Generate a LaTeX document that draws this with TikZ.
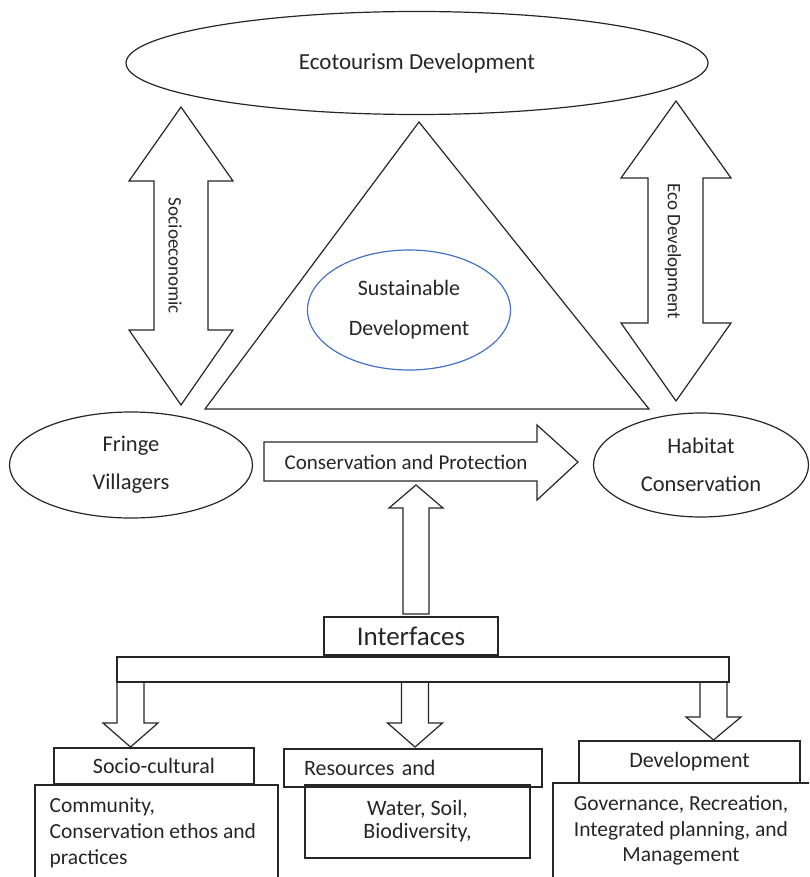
\documentclass[tikz,border=0pt]{standalone}
\usepackage{fontspec}
\setmainfont{Carlito}
\usetikzlibrary{shapes.geometric}
\definecolor{ovalblue}{HTML}{4472C4}

\begin{document}
\begin{tikzpicture}[x=1pt, y=-1pt, line width=1.2pt, color=black!85,
  txt/.style={font=\fontsize{22}{26}\selectfont, inner sep=0pt},
  oval/.style={draw, ellipse, inner sep=0pt, align=center}]
  \useasboundingbox (0,0) rectangle (809,877);
  \clip (0,0) rectangle (809,877);
  % top and centre
  \node[oval, minimum width=582pt, minimum height=103pt, font=\fontsize{23}{28}\selectfont] (eco) at (417,63) {Ecotourism Development};
  \draw (419,122) -- (649,409) -- (205,409) -- cycle;
  \node[oval, draw=ovalblue, minimum width=203pt, minimum height=120pt, font=\fontsize{22}{40}\selectfont] (sust) at (409,310) {Sustainable\\Development};
  % side arrows
  \draw (181,107) -- (233,181) -- (208,181) -- (208,330) -- (233,330) -- (181,405) -- (129,330) -- (154,330) -- (154,181) -- (129,181) -- cycle;
  \node[rotate=-90, font=\fontsize{19}{19}\selectfont] (socio) at (175,256) {Socioeconomic};
  \draw (676,101) -- (731,178) -- (703,178) -- (703,323) -- (731,323) -- (676,401) -- (621,323) -- (648,323) -- (648,178) -- (621,178) -- cycle;
  \node[rotate=-90, font=\fontsize{19}{19}\selectfont] (ecodev) at (673,251) {Eco Development};
  % middle row
  \node[oval, minimum width=243pt, minimum height=106pt, font=\fontsize{22.5}{38}\selectfont] (fringe) at (131,465) {Fringe\\Villagers};
  \node[oval, minimum width=215pt, minimum height=104pt, font=\fontsize{22.5}{38}\selectfont] (habitat) at (701,465) {Habitat\\Conservation};
  \draw (264,442) -- (537,442) -- (537,425) -- (578,462) -- (537,500) -- (537,481) -- (264,481) -- cycle;
  \node[font=\fontsize{21}{21}\selectfont] (consv) at (406,462) {Conservation and Protection};
  \draw (416,485) -- (443,508) -- (429,508) -- (429,614) -- (403,614) -- (403,508) -- (389,508) -- cycle;
  % interfaces
  \node[draw, minimum width=174pt, minimum height=38pt, font=\fontsize{27}{27}\selectfont] (intf) at (411,636) {Interfaces};
  \draw (117,657) rectangle (729,682);
  \foreach \x/\b/\t in {130.5/723/747, 415/723/747, 713.5/717/740}
    \draw (\x-13.5,682) -- (\x-13.5,\b) -- (\x-27.5,\b) -- (\x,\t) -- (\x+27.5,\b) -- (\x+13.5,\b) -- (\x+13.5,682) -- cycle;
  % bottom boxes
  \node[draw, txt, minimum width=200pt, minimum height=36pt] (soccult) at (154,766) {Socio-cultural};
  \draw (35,785) rectangle (278,900);
  \node[txt, font=\fontsize{21.5}{26}\selectfont, align=left, anchor=north west] (comm) at (49,797) {Community,\\Conservation ethos and\\practices};
  \node[draw, txt, text width=218pt, inner xsep=20pt, align=left, minimum height=38pt] (res) at (413,768) {Resources and};
  \node[draw, txt, minimum width=225pt, minimum height=73pt, align=center, font=\fontsize{22}{23}\selectfont] (water) at (417.5,821.5) {Water, Soil,\\Biodiversity,};
  \node[draw, txt, minimum width=221pt, minimum height=42pt] (devel) at (689.5,762) {Development};
  \draw (553,783) rectangle (830,900);
  \node[txt, align=center, font=\fontsize{21.5}{25.5}\selectfont] (gov) at (681,830.5) {Governance, Recreation,\\Integrated planning, and\\Management};
\end{tikzpicture}
\end{document}
